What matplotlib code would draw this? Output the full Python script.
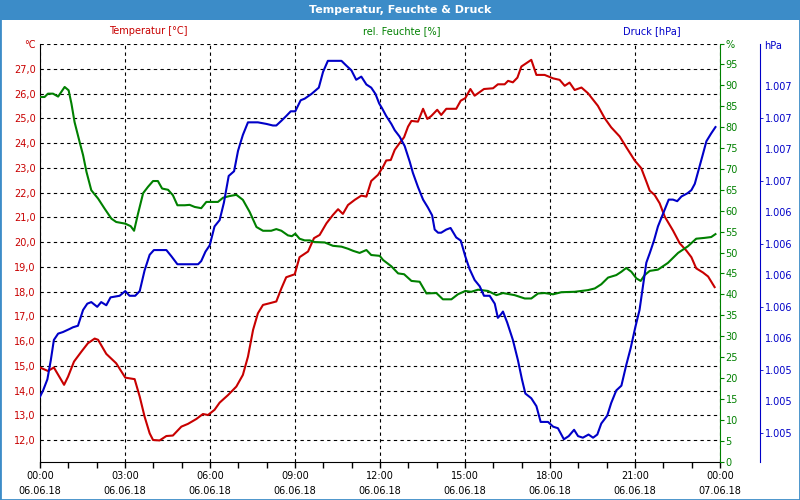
import matplotlib
matplotlib.use('Agg')
import matplotlib.pyplot as plt
from matplotlib.patches import Rectangle

# time in hours since 06.06.18 00:00
temp_h = [0, 0.28, 0.49, 0.85, 0.99, 1.20, 1.46, 1.69, 1.93, 2.05, 2.34, 2.69, 3.01, 3.34, 3.52, 3.69, 3.87, 3.99,
          4.22, 4.46, 4.69, 4.99, 5.22, 5.52, 5.75, 5.93,
          6.16, 6.34, 6.64, 6.93, 7.16, 7.34, 7.52, 7.69, 7.87, 8.11, 8.34, 8.52, 8.69, 8.99, 9.16, 9.46, 9.67, 9.87,
          10.11, 10.34, 10.52, 10.69, 10.87, 11.11, 11.34, 11.52, 11.69, 11.93,
          12.11, 12.22, 12.38, 12.52, 12.69, 12.85, 12.99, 13.11, 13.34, 13.52, 13.67, 13.81, 14.02, 14.16, 14.34,
          14.69, 14.85, 15.01, 15.19, 15.34, 15.67, 15.99, 16.16, 16.40, 16.52, 16.69, 16.85, 16.99, 17.16, 17.34,
          17.52, 17.81,
          18.11, 18.34, 18.52, 18.69, 18.87, 19.11, 19.34, 19.69, 19.93, 20.16, 20.46, 20.69, 20.99, 21.22, 21.40,
          21.52, 21.69, 21.87, 22.05, 22.34, 22.58, 22.81, 22.99, 23.16, 23.40, 23.58, 23.81]
temp_c = [14.93, 14.79, 14.93, 14.23, 14.56, 15.17, 15.57, 15.91, 16.10, 16.05, 15.48, 15.10, 14.52, 14.46, 13.75,
          12.95, 12.27, 12.00, 11.98, 12.16, 12.18, 12.54, 12.65, 12.85, 13.05, 13.01,
          13.22, 13.51, 13.82, 14.16, 14.63, 15.37, 16.45, 17.12, 17.46, 17.53, 17.60, 18.13, 18.58, 18.70, 19.39,
          19.62, 20.16, 20.29, 20.76, 21.10, 21.33, 21.14, 21.50, 21.71, 21.88, 21.84, 22.47, 22.72,
          23.05, 23.30, 23.32, 23.73, 24.00, 24.24, 24.67, 24.90, 24.87, 25.39, 24.98, 25.10, 25.35, 25.14, 25.39,
          25.39, 25.72, 25.82, 26.19, 25.92, 26.19, 26.22, 26.38, 26.38, 26.52, 26.46, 26.65, 27.10, 27.23, 27.37,
          26.76, 26.76,
          26.62, 26.56, 26.32, 26.45, 26.15, 26.25, 26.02, 25.51, 25.01, 24.64, 24.27, 23.84, 23.30, 22.99, 22.45,
          22.08, 21.91, 21.57, 21.03, 20.47, 19.95, 19.66, 19.39, 18.94, 18.77, 18.61, 18.18]

hum_h = [0, 0.16, 0.28, 0.46, 0.64, 0.87, 1.01, 1.11, 1.22, 1.40, 1.52, 1.64, 1.81, 2.05, 2.28, 2.52, 2.69, 3.01,
         3.20, 3.32, 3.46, 3.64, 3.81, 3.99, 4.16, 4.31, 4.52, 4.69, 4.85, 5.11, 5.28, 5.46, 5.69, 5.87,
         6.28, 6.46, 6.69, 6.93, 7.16, 7.40, 7.64, 7.87, 8.16, 8.34, 8.52, 8.75, 8.89, 9.01, 9.16, 9.34, 9.52, 9.69,
         10.05, 10.34, 10.64, 10.87, 11.05, 11.28, 11.52, 11.69, 11.99,
         12.11, 12.40, 12.64, 12.85, 13.11, 13.40, 13.64, 13.99, 14.22, 14.52, 14.75, 15.01, 15.22, 15.46, 15.81,
         16.11, 16.34, 16.75, 17.11, 17.34, 17.58, 17.81,
         18.11, 18.40, 18.87, 19.34, 19.58, 19.81, 20.05, 20.34, 20.52, 20.69, 20.87, 21.05, 21.20, 21.34, 21.52,
         21.81, 22.16, 22.52, 22.87, 23.16, 23.46, 23.69, 23.84]
hum_pct = [87.2, 87.2, 88.0, 88.0, 87.3, 89.6, 88.8, 85.6, 81.2, 76.4, 73.3, 69.3, 64.9, 62.9, 60.5, 58.1, 57.3,
           56.9, 56.3, 55.2, 59.3, 64.2, 65.7, 67.1, 67.1, 65.3, 65.0, 63.7, 61.3, 61.3, 61.4, 60.9, 60.6, 62.1,
           62.1, 63.1, 63.5, 63.8, 62.6, 59.7, 56.1, 55.2, 55.2, 55.6, 55.2, 54.1, 53.9, 54.5, 53.3, 52.9, 52.9,
           52.5, 52.4, 51.6, 51.4, 50.9, 50.4, 49.9, 50.6, 49.4, 49.2,
           48.2, 46.7, 45.0, 44.8, 43.2, 43.0, 40.2, 40.3, 38.8, 38.8, 40.0, 40.8, 40.6, 41.1, 40.8, 39.8, 40.3,
           39.8, 39.0, 39.0, 40.2, 40.3,
           40.0, 40.5, 40.6, 41.0, 41.4, 42.4, 44.0, 44.6, 45.4, 46.3, 45.4, 43.8, 43.2, 44.6, 45.6, 45.9, 47.5,
           49.9, 51.5, 53.3, 53.5, 53.7, 54.4]

press_h = [0, 0.11, 0.26, 0.38, 0.49, 0.64, 0.81, 1.05, 1.16, 1.34, 1.52, 1.67, 1.81, 2.02, 2.16, 2.34, 2.49, 2.81,
           3.01, 3.16, 3.36, 3.52, 3.69, 3.87, 4.02, 4.46, 4.64, 4.85, 5.11, 5.58, 5.69, 5.84, 5.99,
           6.16, 6.34, 6.49, 6.66, 6.85, 6.99, 7.16, 7.34, 7.69, 7.99, 8.22, 8.34, 8.52, 8.69, 8.85, 9.01, 9.20,
           9.34, 9.58, 9.84, 9.99, 10.16, 10.64, 10.81, 10.99, 11.16, 11.34, 11.52, 11.69, 11.84,
           11.97, 12.07, 12.22, 12.40, 12.52, 12.69, 12.87, 13.05, 13.16, 13.34, 13.52, 13.69, 13.84, 13.93, 14.05,
           14.16, 14.34, 14.49, 14.69, 14.85, 15.01, 15.16, 15.34, 15.52, 15.67, 15.87, 16.05, 16.16, 16.26, 16.34,
           16.49, 16.69, 16.87, 17.01, 17.13, 17.34, 17.52, 17.67, 17.93,
           18.11, 18.28, 18.49, 18.66, 18.85, 18.99, 19.16, 19.36, 19.52, 19.67, 19.81, 20.02, 20.16, 20.34, 20.52,
           20.69, 20.85, 21.01, 21.16, 21.28, 21.40, 21.52, 21.67, 21.81, 21.99, 22.19, 22.34, 22.49, 22.64, 22.85,
           22.99, 23.11, 23.28, 23.40, 23.52, 23.69, 23.84]
press_hpa = [1.00523, 1.00527, 1.00534, 1.00546, 1.00559, 1.00563, 1.00564, 1.00566, 1.00567, 1.00568, 1.00578,
             1.00582, 1.00583, 1.00580, 1.00583, 1.00581, 1.00586, 1.00587, 1.00590, 1.00587, 1.00587, 1.00590,
             1.00603, 1.00613, 1.00616, 1.00616, 1.00612, 1.00607, 1.00607, 1.00607, 1.00609, 1.00615, 1.00619,
             1.00631, 1.00635, 1.00646, 1.00663, 1.00666, 1.00679, 1.00689, 1.00697, 1.00697, 1.00696, 1.00695,
             1.00695, 1.00698, 1.00701, 1.00704, 1.00704, 1.00711, 1.00712, 1.00715, 1.00719, 1.00729, 1.00736,
             1.00736, 1.00733, 1.00730, 1.00724, 1.00726, 1.00721, 1.00719, 1.00715,
             1.00709, 1.00706, 1.00701, 1.00696, 1.00692, 1.00688, 1.00682, 1.00672, 1.00665, 1.00656, 1.00648,
             1.00643, 1.00638, 1.00629, 1.00627, 1.00627, 1.00629, 1.00630, 1.00624, 1.00622, 1.00612, 1.00604,
             1.00597, 1.00593, 1.00587, 1.00587, 1.00582, 1.00573, 1.00575, 1.00577, 1.00570, 1.00559, 1.00546,
             1.00534, 1.00525, 1.00522, 1.00517, 1.00507, 1.00507,
             1.00504, 1.00503, 1.00496, 1.00498, 1.00502, 1.00498, 1.00497, 1.00499, 1.00497, 1.00499, 1.00506,
             1.00511, 1.00519, 1.00527, 1.00530, 1.00543, 1.00554, 1.00567, 1.00578, 1.00593, 1.00608, 1.00614,
             1.00622, 1.00631, 1.00639, 1.00648, 1.00648, 1.00647, 1.00650, 1.00652, 1.00654, 1.00658, 1.00669,
             1.00677, 1.00685, 1.00690, 1.00694]

x_ticks = [0, 3, 6, 9, 12, 15, 18, 21, 24]
x_labels = ['00:00\n06.06.18', '03:00\n06.06.18', '06:00\n06.06.18', '09:00\n06.06.18', '12:00\n06.06.18',
            '15:00\n06.06.18', '18:00\n06.06.18', '21:00\n06.06.18', '00:00\n07.06.18']
temp_ticks = list(range(12, 29))
hum_ticks = list(range(0, 101, 5))
press_ticks = [1.0050 + 0.0002 * i for i in range(12)]

RED = '#c80000'
GREEN = '#008000'
BLUE = '#0000c8'
FRAME = '#3c8cc8'

fig = plt.figure(figsize=(8, 5), dpi=100)
fig.patches.append(Rectangle((0, 1 - 20 / 500), 1, 20 / 500, transform=fig.transFigure,
                             facecolor=FRAME, edgecolor='none'))
fig.patches.append(Rectangle((0, 0), 1, 1, transform=fig.transFigure, fill=False,
                             edgecolor=FRAME, linewidth=2))
fig.text(0.5, 1 - 10 / 500, 'Temperatur, Feuchte & Druck', color='white', weight='bold',
         ha='center', va='center', fontsize=8)
fig.text(148 / 800, 1 - 31 / 500, 'Temperatur [°C]', color=RED, ha='center', va='center', fontsize=7)
fig.text(402 / 800, 1 - 31 / 500, 'rel. Feuchte [%]', color=GREEN, ha='center', va='center', fontsize=7)
fig.text(652 / 800, 1 - 31 / 500, 'Druck [hPa]', color=BLUE, ha='center', va='center', fontsize=7)
fig.text(764 / 800, 1 - 46 / 500, 'hPa', color=BLUE, ha='left', va='center', fontsize=7)

ax1 = fig.add_axes([40 / 800, 38.5 / 500, 680 / 800, 418 / 500])
ax1.plot(temp_h, temp_c, color=RED, lw=1.5, zorder=3)
ax1.set_xlim(0, 24)
ax1.set_ylim(11.13, 28.03)
ax1.set_yticks(temp_ticks)
ax1.set_yticklabels([f'{v},0' for v in temp_ticks[:-1]] + ['°C'])
ax1.tick_params(axis='y', length=0, pad=3, labelcolor=RED, labelsize=7)
ax1.set_xticks(x_ticks)
ax1.set_xticklabels(x_labels, linespacing=1.55)
ax1.set_xticks(range(25), minor=True)
ax1.tick_params(axis='x', which='both', length=4, width=1, labelsize=7, pad=3)
ax1.grid(True, which='major', color='black', linestyle=(0, (3, 3)), linewidth=0.8)
ax1.spines['top'].set_visible(False)
ax1.spines['right'].set_visible(False)

ax2 = ax1.twinx()
ax2.plot(hum_h, hum_pct, color=GREEN, lw=1.5)
ax2.set_ylim(0, 100)
ax2.set_yticks(hum_ticks)
ax2.set_yticklabels([str(v) for v in hum_ticks[:-1]] + ['%'])
ax2.tick_params(axis='y', length=3, pad=1, color=GREEN, labelcolor=GREEN, labelsize=7)
for s in ['top', 'left', 'bottom']:
    ax2.spines[s].set_visible(False)
ax2.spines['right'].set_color(GREEN)

ax3 = ax1.twinx()
ax3.plot(press_h, press_hpa, color=BLUE, lw=1.5)
ax3.set_ylim(1.004819, 1.00747)
ax3.set_yticks(press_ticks)
ax3.set_yticklabels([f'{v:.3f}' for v in press_ticks])
ax3.set_yticks(press_ticks[::2], minor=True)
ax3.yaxis.remove_overlapping_locs = False
ax3.tick_params(axis='y', which='major', length=0, pad=3.5, labelcolor=BLUE, labelsize=7)
ax3.tick_params(axis='y', which='minor', length=2, color=BLUE)
ax3.spines['right'].set_position(('axes', 1 + 40 / 680))
ax3.spines['right'].set_color(BLUE)
for s in ['top', 'left', 'bottom']:
    ax3.spines[s].set_visible(False)

fig.savefig('out.png', dpi=100)
